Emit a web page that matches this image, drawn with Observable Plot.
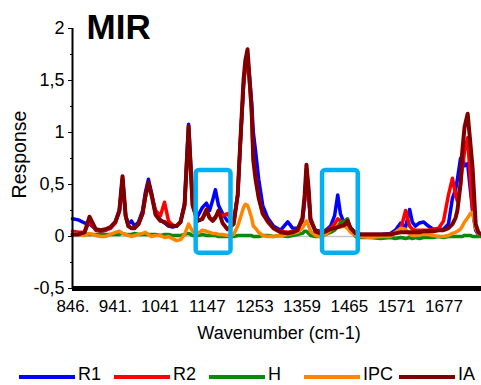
<!DOCTYPE html>
<html>
<head>
<meta charset="utf-8">
<script src="https://cdn.jsdelivr.net/npm/d3@7"></script>
<script src="https://cdn.jsdelivr.net/npm/@observablehq/plot@0.6"></script>
<style>
  html, body { margin: 0; padding: 0; background: #fff; }
  #wrap { position: relative; width: 481px; height: 385px; overflow: hidden; font-family: 'Liberation Sans', Arial, sans-serif; }
  #legend { position: absolute; left: 19px; top: 366px; display: flex; }
  .item { display: flex; align-items: flex-start; width: 95px; height: 16px; }
  .swatch { display: inline-block; width: 56px; height: 4px; margin-top: 9px; margin-right: 3px; }
  .lab { font-size: 18px; line-height: 16px; color: #000; }
</style>
</head>
<body>
<div id="wrap">
  <div id="chart"></div>
  <div id="legend"></div>
</div>
<script>
// ---- data ----
const wn = [845, 858, 872, 883, 897, 908, 919, 930, 941, 950,
  957, 964, 970, 977, 984, 993, 1002, 1008, 1015, 1022,
  1031, 1042, 1051, 1060, 1069, 1078, 1087, 1096, 1105, 1114,
  1125, 1136, 1145, 1152, 1159, 1165, 1172, 1181, 1192, 1206,
  1215, 1221, 1228, 1232, 1237, 1241, 1246, 1250, 1255, 1262,
  1271, 1282, 1295, 1311, 1327, 1338, 1349, 1360, 1365, 1369,
  1374, 1378, 1389, 1400, 1412, 1423, 1432, 1439, 1445, 1454,
  1461, 1468, 1479, 1490, 1512, 1535, 1557, 1568, 1580, 1591,
  1600, 1606, 1613, 1622, 1631, 1642, 1653, 1665, 1676, 1687,
  1696, 1703, 1707, 1714, 1718, 1723, 1730, 1736, 1741, 1748,
  1754, 1761];

const R1 = [0.17, 0.16, 0.13, 0.12, 0.07, 0.05, 0.06, 0.08, 0.14, 0.25,
  0.56, 0.20, 0.12, 0.15, 0.10, 0.14, 0.25, 0.42, 0.55, 0.42,
  0.22, 0.16, 0.13, 0.10, 0.09, 0.10, 0.14, 0.32, 1.08, 0.35,
  0.19, 0.28, 0.32, 0.25, 0.35, 0.45, 0.30, 0.22, 0.15, 0.14,
  0.40, 0.90, 1.45, 1.65, 1.75, 1.55, 1.30, 1.00, 0.82, 0.55,
  0.30, 0.18, 0.10, 0.06, 0.14, 0.08, 0.08, 0.15, 0.35, 0.65,
  0.40, 0.15, 0.06, 0.05, 0.06, 0.10, 0.20, 0.40, 0.22, 0.12,
  0.10, 0.08, 0.03, 0.02, 0.02, 0.02, 0.03, 0.06, 0.13, 0.09,
  0.26, 0.14, 0.10, 0.13, 0.14, 0.10, 0.07, 0.07, 0.07, 0.12,
  0.37, 0.45, 0.55, 0.75, 0.78, 0.68, 0.70, 0.45, 0.25, 0.06,
  0.02, 0.02];

const R2 = [0.05, 0.04, 0.04, 0.15, 0.06, 0.05, 0.06, 0.08, 0.13, 0.24,
  0.55, 0.19, 0.10, 0.08, 0.08, 0.12, 0.22, 0.38, 0.50, 0.40,
  0.25, 0.20, 0.33, 0.15, 0.11, 0.10, 0.14, 0.30, 1.00, 0.30,
  0.15, 0.17, 0.24, 0.18, 0.16, 0.19, 0.23, 0.20, 0.22, 0.14,
  0.40, 0.92, 1.45, 1.62, 1.70, 1.50, 1.20, 0.75, 0.58, 0.38,
  0.22, 0.14, 0.08, 0.05, 0.04, 0.05, 0.06, 0.16, 0.35, 0.60,
  0.40, 0.16, 0.05, 0.04, 0.05, 0.08, 0.12, 0.17, 0.15, 0.12,
  0.13, 0.08, 0.03, 0.02, 0.02, 0.02, 0.02, 0.04, 0.07, 0.25,
  0.10, 0.07, 0.06, 0.06, 0.06, 0.06, 0.07, 0.08, 0.15, 0.40,
  0.56, 0.40, 0.34, 0.50, 0.65, 0.82, 0.95, 0.55, 0.25, 0.08,
  0.03, 0.02];

const H = [0.02, 0.02, 0.02, 0.02, 0.02, 0.02, 0.02, 0.02, 0.02, 0.02,
  0.03, 0.02, 0.02, 0.02, 0.03, 0.02, 0.02, 0.02, 0.02, 0.02,
  0.02, 0.01, 0.02, 0.02, 0.01, 0.01, 0.01, 0.02, 0.03, 0.01,
  0.01, 0.02, 0.01, 0.01, 0.01, 0.01, 0.00, 0.00, 0.00, 0.00,
  0.01, 0.01, 0.01, 0.01, 0.01, 0.01, 0.01, 0.00, 0.00, 0.00,
  0.01, 0.01, 0.00, 0.01, 0.00, 0.01, 0.02, 0.03, 0.05, 0.05,
  0.03, 0.01, 0.00, 0.00, 0.02, 0.04, 0.06, 0.10, 0.13, 0.15,
  0.17, 0.06, 0.00, -0.01, -0.01, -0.02, -0.01, -0.02, -0.01, -0.02,
  -0.01, -0.02, -0.01, -0.02, -0.01, -0.01, -0.01, 0.00, -0.01, 0.00,
  0.00, 0.00, 0.00, 0.00, 0.00, 0.01, 0.01, 0.01, 0.00, 0.00,
  0.00, 0.00];

const IPC = [0.03, 0.02, 0.01, 0.03, 0.01, 0.00, 0.00, 0.02, 0.04, 0.05,
  0.03, 0.02, 0.01, 0.00, 0.01, 0.02, 0.03, 0.04, 0.02, 0.00,
  0.01, 0.01, -0.01, 0.00, -0.02, -0.04, -0.03, 0.02, 0.12, 0.05,
  0.03, 0.06, 0.05, 0.04, 0.03, 0.03, 0.02, 0.02, 0.01, 0.02,
  0.10, 0.18, 0.28, 0.31, 0.30, 0.25, 0.18, 0.10, 0.08, 0.04,
  0.01, 0.00, 0.00, 0.01, 0.02, 0.03, 0.04, 0.08, 0.12, 0.15,
  0.10, 0.05, 0.01, 0.00, 0.02, 0.06, 0.08, 0.10, 0.09, 0.10,
  0.08, 0.04, 0.01, 0.00, -0.01, 0.00, 0.00, 0.04, 0.08, 0.07,
  0.02, 0.01, 0.01, 0.02, 0.02, 0.02, 0.01, 0.00, 0.00, 0.01,
  0.03, 0.04, 0.05, 0.07, 0.10, 0.14, 0.18, 0.22, 0.23, 0.08,
  0.03, 0.02];

const IA = [0.02, 0.02, 0.04, 0.19, 0.07, 0.06, 0.07, 0.09, 0.14, 0.25,
  0.58, 0.20, 0.10, 0.08, 0.08, 0.12, 0.22, 0.38, 0.52, 0.40,
  0.21, 0.15, 0.14, 0.11, 0.10, 0.10, 0.14, 0.30, 1.06, 0.30,
  0.15, 0.17, 0.26, 0.18, 0.15, 0.18, 0.25, 0.13, 0.07, 0.12,
  0.40, 0.92, 1.50, 1.69, 1.80, 1.55, 1.24, 0.73, 0.55, 0.37,
  0.22, 0.15, 0.08, 0.04, 0.03, 0.04, 0.06, 0.18, 0.40, 0.69,
  0.45, 0.17, 0.05, 0.03, 0.05, 0.07, 0.08, 0.09, 0.10, 0.11,
  0.15, 0.08, 0.03, 0.02, 0.02, 0.02, 0.02, 0.03, 0.04, 0.04,
  0.04, 0.04, 0.04, 0.04, 0.05, 0.05, 0.05, 0.06, 0.06, 0.08,
  0.12, 0.18, 0.25, 0.50, 0.82, 1.05, 1.18, 0.90, 0.66, 0.12,
  0.04, 0.02];

const seriesNames = ["R1", "R2", "H", "IPC", "IA"];
const seriesColors = ["#0000ff", "#ff0000", "#0a8a0a", "#ff8400", "#800000"];
const xDomain = [845, 1761];
const yDomain = [-0.5, 2];
const xTicks = [846, 941, 1041, 1147, 1253, 1359, 1465, 1571, 1677];
const xTickLabels = ["846.", "941.", "1041", "1147", "1253", "1359", "1465", "1571", "1677"];
const yTicks = [-0.5, 0, 0.5, 1, 1.5, 2];
const yMinorTicks = [-0.25, 0.25, 0.75, 1.25, 1.75];
// highlighted regions (wavenumber / response units)
const boxX1 = [1122, 1405];
const boxX2 = [1200, 1485];
const boxY1 = [-0.16, -0.16];
const boxY2 = [0.635, 0.635];

// ---- build ----
const valuesBySeries = [R1, R2, H, IPC, IA];
valuesBySeries.forEach((arr, k) => {
  if (arr.length !== wn.length) throw new Error(seriesNames[k] + " length " + arr.length + " vs " + wn.length);
});
const rows = [];
valuesBySeries.forEach((arr, k) => arr.forEach((v, i) => rows.push({s: seriesNames[k], wn: wn[i], v})));
const boxes = boxX1.map((x1, i) => ({x1, x2: boxX2[i], y1: boxY1[i], y2: boxY2[i]}));

const font = "'Liberation Sans', Arial, sans-serif";
const fmtY = d => String(d).replace(".", ",");

const chart = Plot.plot({
  width: 481,
  height: 350,
  marginLeft: 72,
  marginRight: 0,
  marginTop: 28,
  marginBottom: 62,
  style: {fontFamily: font, fontSize: "17px", color: "#000", background: "#fff", overflow: "visible"},
  x: {domain: xDomain, axis: null, label: null},
  y: {domain: yDomain, axis: null, label: null},
  marks: [
    Plot.ruleY([0], {stroke: "#c4c4c4", strokeWidth: 1.5}),
    ...seriesNames.map((name, k) =>
      Plot.line(rows.filter(d => d.s === name), {
        x: "wn", y: "v", stroke: seriesColors[k],
        strokeWidth: name === "IA" ? 4 : 3.5, strokeLinejoin: "round"
      })
    ),
    Plot.rect(boxes, {x1: "x1", x2: "x2", y1: "y1", y2: "y2", fill: "none",
      stroke: "#00b0f0", strokeWidth: 4.5, rx: 3}),
    Plot.ruleY([yDomain[0]], {stroke: "#000", strokeWidth: 5}),
    Plot.ruleX([xDomain[0]], {stroke: "#000", strokeWidth: 2}),
    Plot.axisY({ticks: yTicks, tickFormat: fmtY, tickSize: 4, tickPadding: 4,
      fontSize: 18, label: null, anchor: "left"}),
    Plot.axisY({ticks: yMinorTicks, tickFormat: () => "", tickSize: 2, label: null, anchor: "left"}),
    Plot.axisX({ticks: xTicks, tickFormat: d => xTickLabels[xTicks.indexOf(d)],
      tickSize: 0, tickPadding: 11, fontSize: 17, label: null, anchor: "bottom"}),
    Plot.text(["MIR"], {text: d => d, frameAnchor: "top-left", textAnchor: "start",
      lineAnchor: "bottom", dx: 14, dy: 10, fontSize: 35, fontWeight: "bold"}),
    Plot.text(["Response"], {text: d => d, frameAnchor: "left", textAnchor: "middle",
      lineAnchor: "bottom", rotate: -90, dx: -47, dy: -4, fontSize: 19.5}),
    Plot.text(["Wavenumber (cm-1)"], {text: d => d, frameAnchor: "bottom", textAnchor: "middle",
      lineAnchor: "bottom", dx: 2, dy: 50, fontSize: 18})
  ]
});
document.getElementById("chart").appendChild(chart);

const legend = document.getElementById("legend");
seriesNames.forEach((name, k) => {
  const item = document.createElement("div");
  item.className = "item";
  const sw = document.createElement("span");
  sw.className = "swatch";
  sw.style.background = seriesColors[k];
  const lab = document.createElement("span");
  lab.className = "lab";
  lab.textContent = name;
  item.appendChild(sw);
  item.appendChild(lab);
  legend.appendChild(item);
});
</script>
</body>
</html>
